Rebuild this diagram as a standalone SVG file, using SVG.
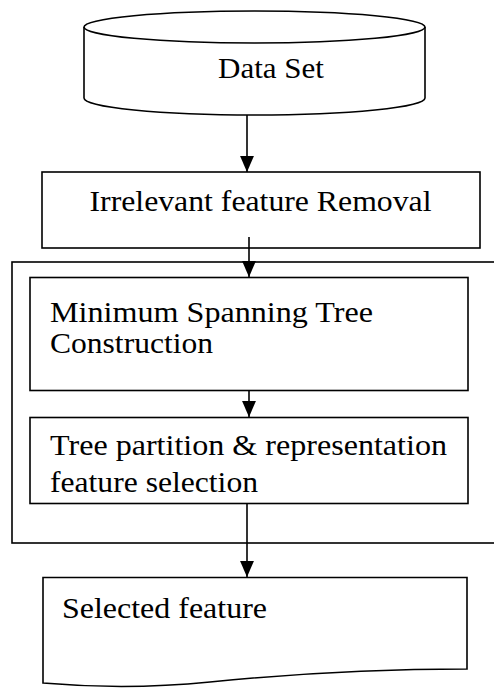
<svg xmlns="http://www.w3.org/2000/svg" width="494" height="689" viewBox="0 0 494 689">
<style>
.s{fill:none;stroke:#000;stroke-width:1.6}
.t{font-family:"Liberation Serif","Times New Roman",serif;font-size:30px;fill:#000}
.c{stroke:#000;stroke-width:1.6;fill:none}
</style>
<defs>
<marker id="ah" markerUnits="userSpaceOnUse" markerWidth="16" markerHeight="14" refX="15" refY="6.5" orient="auto" viewBox="0 0 15 13">
<path d="M0,0 L15,6.5 L0,13 Z" fill="#000"/>
</marker>
<clipPath id="clipTree"><rect x="30" y="417" width="438" height="75"/></clipPath>
</defs>
<rect width="494" height="689" fill="#fff"/>
<g id="group-box">
<rect class="s" x="12" y="262" width="490" height="281"/>
</g>
<g id="data-set">
<path class="s" d="M84,27 V98 A170.5,17 0 0 0 425,98 V27"/>
<ellipse class="s" cx="254.5" cy="27" rx="170.5" ry="16"/>
<text class="t" x="218" y="78" textLength="106" lengthAdjust="spacingAndGlyphs">Data Set</text>
</g>
<g id="irrelevant-removal">
<rect class="s" x="42" y="172" width="438" height="76"/>
<text class="t" x="89.5" y="211" textLength="342" lengthAdjust="spacingAndGlyphs">Irrelevant feature Removal</text>
</g>
<g id="mst">
<rect class="s" x="30" y="277.5" width="438" height="113"/>
<text class="t" x="50" y="321.5" textLength="323" lengthAdjust="spacingAndGlyphs">Minimum Spanning Tree</text>
<text class="t" x="50" y="353" textLength="163" lengthAdjust="spacingAndGlyphs">Construction</text>
</g>
<g id="tree-partition">
<rect class="s" x="30" y="417.5" width="438" height="86"/>
<g clip-path="url(#clipTree)">
<text class="t" x="50" y="455" textLength="397" lengthAdjust="spacingAndGlyphs">Tree partition &amp; representation</text>
<text class="t" x="50" y="492" textLength="208" lengthAdjust="spacingAndGlyphs">feature selection</text>
</g>
</g>
<g id="selected-feature">
<path class="s" d="M43,577.5 H467 V669 C380,669 300,673 210,682 C150,688 100,688 43,683 Z"/>
<text class="t" x="62" y="618" textLength="205" lengthAdjust="spacingAndGlyphs">Selected feature</text>
</g>
<g id="connectors">
<path class="c" d="M247,115 V172" marker-end="url(#ah)"/>
<path class="c" d="M249,237 V277" marker-end="url(#ah)"/>
<path class="c" d="M249,390.5 V417" marker-end="url(#ah)"/>
<path class="c" d="M247,503.5 V577" marker-end="url(#ah)"/>
</g>
</svg>
